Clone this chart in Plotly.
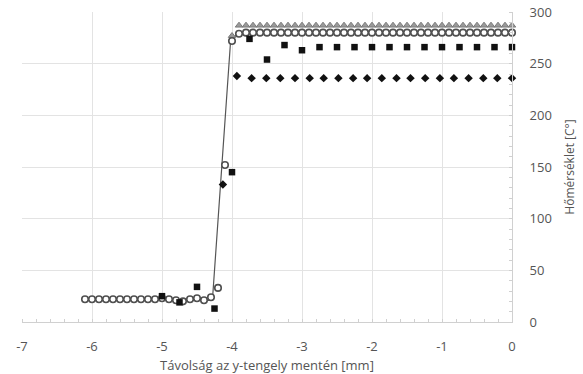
import plotly.graph_objects as go

# open circles (measured), step 0.1 mm
circ_x = [round(-6.1 + 0.1 * i, 2) for i in range(62)]
circ_y = [22, 22, 22, 22, 22, 22, 22, 22, 22, 22, 22, 23, 22, 21, 20, 22, 23, 21, 24,
          33, 152, 272, 279] + [280] * 39

# gray triangles
tri_x = [round(-4.0 + 0.1 * i, 2) for i in range(41)]
tri_y = [277] + [287] * 40

# black squares, step 0.25 mm
sq_x = [-5.0, -4.75, -4.5, -4.25, -4.0, -3.75, -3.5, -3.25, -3.0, -2.75, -2.5,
        -2.25, -2.0, -1.75, -1.5, -1.25, -1.0, -0.75, -0.5, -0.25, 0.0]
sq_y = [25, 19, 34, 13, 145, 274, 254, 268, 263, 266, 266, 266, 266, 266, 266,
        266, 266, 266, 266, 266, 266]

# black diamonds
dia_x = [-4.13, -3.93, -3.72, -3.51, -3.31, -3.1, -2.89, -2.69, -2.48, -2.27, -2.07,
         -1.86, -1.65, -1.45, -1.24, -1.03, -0.83, -0.62, -0.41, -0.21, 0.0]
dia_y = [133, 238] + [236] * 19

# solid model line
line_x = [-6.1, -4.28, -4.02, -3.92, -3.8, 0.0]
line_y = [22, 21, 272, 279, 280, 280]

x_ticks = [-7, -6, -5, -4, -3, -2, -1, 0]
y_ticks = [0, 50, 100, 150, 200, 250, 300]

fig = go.Figure()
fig.add_trace(go.Scatter(x=line_x, y=line_y, mode="lines",
                         line=dict(color="#555555", width=1.2), cliponaxis=False))
fig.add_trace(go.Scatter(x=tri_x, y=tri_y, mode="markers", cliponaxis=False,
                         marker=dict(symbol="triangle-up", size=6.5, color="#9a9a9a",
                                     line=dict(color="#7a7a7a", width=1))))
fig.add_trace(go.Scatter(x=circ_x, y=circ_y, mode="markers", cliponaxis=False,
                         marker=dict(symbol="circle", size=6.5, color="white",
                                     line=dict(color="#505050", width=1.6))))
fig.add_trace(go.Scatter(x=dia_x, y=dia_y, mode="markers", cliponaxis=False,
                         marker=dict(symbol="diamond", size=6.5, color="#111111")))
fig.add_trace(go.Scatter(x=sq_x, y=sq_y, mode="markers", cliponaxis=False,
                         marker=dict(symbol="square", size=6.5, color="#111111")))

font = dict(family="Open Sans, Liberation Sans, sans-serif", color="#555555", size=13)
fig.update_layout(
    width=583, height=374, showlegend=False,
    margin=dict(l=22, r=71, t=12, b=52),
    paper_bgcolor="white", plot_bgcolor="white", font=font,
    xaxis=dict(range=[-7, 0], tickvals=x_ticks, ticktext=[str(v) for v in x_ticks],
               automargin=False,
               showgrid=True, gridcolor="#e3e3e3", gridwidth=1, zeroline=False,
               showline=True, linecolor="#d0d0d0", linewidth=1,
               ticks="", ticklabelstandoff=12,
               minor=dict(dtick=0.2, ticks="inside", ticklen=3, tickcolor="#d0d0d0", showgrid=False),
               title=dict(text="Távolság az y-tengely mentén [mm]", standoff=9,
                          font=dict(size=13, color="#555555"))),
    yaxis=dict(range=[0, 300], tickvals=y_ticks, ticktext=[str(v) for v in y_ticks],
               automargin=False,
               side="right", showgrid=True, gridcolor="#e3e3e3", gridwidth=1,
               zeroline=False, showline=True, linecolor="#d0d0d0", linewidth=1,
               ticks="", ticklabelstandoff=14,
               minor=dict(dtick=10, ticks="inside", ticklen=3, tickcolor="#d0d0d0", showgrid=False),
               title=dict(text="Hőmérséklet [C°]", standoff=14,
                          font=dict(size=12, color="#555555"))),
)
fig.write_html("out.html")
